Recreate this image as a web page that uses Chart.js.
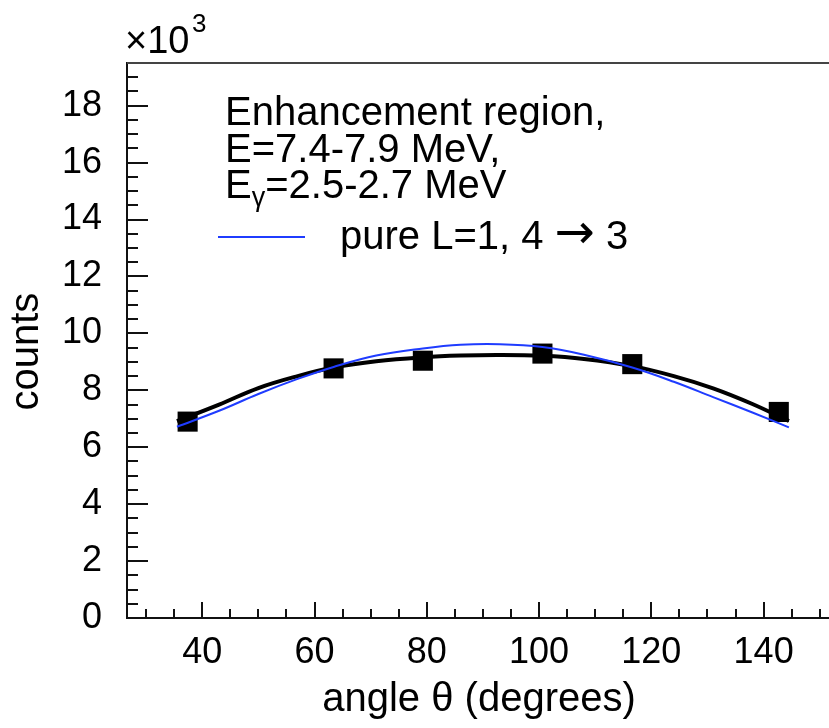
<!DOCTYPE html>
<html>
<head>
<meta charset="utf-8">
<script src="https://cdn.jsdelivr.net/npm/chart.js@4.4.1/dist/chart.umd.min.js"></script>
<style>
html, body { margin: 0; padding: 0; background: #fff; overflow: hidden; }
#wrap { width: 831px; height: 728px; }
</style>
</head>
<body>
<div id="wrap"><canvas id="c" width="831" height="728"></canvas></div>
<script>
// measured points (angle in degrees, counts in units of 10^3)
const angles = [37.4, 63.4, 79.3, 100.6, 116.6, 142.7];
const counts = [6.90, 8.77, 9.04, 9.29, 8.92, 7.24];

// black fit curve
const fitAngles = [35.5, 43, 50, 57, 63.4, 71, 79.3, 86, 93, 100.6, 108, 116.6, 124, 131, 138, 144.5];
const fitCounts = [6.92, 7.50, 8.08, 8.50, 8.80, 9.02, 9.16, 9.22, 9.24, 9.21, 9.10, 8.85, 8.50, 8.07, 7.52, 6.92];

// blue curve, pure L=1, 4 -> 3
const pureAngles = [35.5, 43, 50, 57, 63.4, 71, 79.3, 86, 93, 100.6, 108, 116.6, 124, 131, 138, 144.5];
const pureCounts = [6.72, 7.28, 7.87, 8.40, 8.82, 9.22, 9.47, 9.60, 9.62, 9.52, 9.25, 8.80, 8.30, 7.76, 7.22, 6.70];

// axes
const xTicks = [40, 60, 80, 100, 120, 140];
const yTicks = [0, 2, 4, 6, 8, 10, 12, 14, 16, 18];
const xRange = [26.6, 152];
const yRange = [0, 19.5];

const legendLines = ['Enhancement region,', 'E=7.4-7.9 MeV,'];
const legendGamma = ['E', '\u03b3', '=2.5-2.7 MeV'];
const legendCurve = ['pure L=1, 4 ', '\u2192', ' 3'];

const FONT = '"Liberation Sans", Arial, Helvetica, sans-serif';
const BLUE = '#1f3cff';

function pts(xs, ys) {
    return xs.map((v, i) => ({ x: v, y: ys[i] }));
}

// tick marks inside the frame, top border, the x10^3 and the legend
const decor = {
    id: 'decor',
    afterDatasetsDraw(chart) {
        const { ctx, chartArea: a, scales: { x, y } } = chart;
        ctx.save();
        ctx.strokeStyle = '#111';
        ctx.lineWidth = 2;
        ctx.beginPath();
        for (let v = 0; v <= yRange[1] + 1e-6; v += 0.5) {
            const py = Math.round(y.getPixelForValue(v));
            const len = (Math.abs(v % 2) < 1e-6) ? 21 : 11;
            ctx.moveTo(a.left, py);
            ctx.lineTo(a.left + len, py);
        }
        for (let v = 30; v <= xRange[1]; v += 5) {
            const px = Math.round(x.getPixelForValue(v));
            const len = (v % 20 === 0) ? 16 : 9;
            ctx.moveTo(px, a.bottom);
            ctx.lineTo(px, a.bottom - len);
        }
        ctx.stroke();

        // top frame line
        ctx.strokeStyle = '#444';
        ctx.beginPath();
        ctx.moveTo(a.left, a.top);
        ctx.lineTo(a.right, a.top);
        ctx.stroke();

        // x10^3
        ctx.fillStyle = '#000';
        ctx.textBaseline = 'alphabetic';
        ctx.textAlign = 'left';
        ctx.font = '38px ' + FONT;
        ctx.fillText('\u00d710', 125, 53);
        ctx.font = '26px ' + FONT;
        ctx.fillText('3', 192, 32);

        // legend text
        ctx.font = '40px ' + FONT;
        ctx.fillText(legendLines[0], 225, 125);
        ctx.fillText(legendLines[1], 225, 162);
        let gx = 225;
        ctx.fillText(legendGamma[0], gx, 198);
        gx += ctx.measureText(legendGamma[0]).width;
        ctx.font = '27px ' + FONT;
        ctx.fillText(legendGamma[1], gx, 206);
        gx += ctx.measureText(legendGamma[1]).width;
        ctx.font = '40px ' + FONT;
        ctx.fillText(legendGamma[2], gx, 198);

        let cx = 340;
        ctx.fillText(legendCurve[0], cx, 249);
        cx += ctx.measureText(legendCurve[0]).width;
        ctx.font = '48px "DejaVu Sans", sans-serif';
        ctx.fillText(legendCurve[1], cx, 248);
        cx += ctx.measureText(legendCurve[1]).width;
        ctx.font = '40px ' + FONT;
        ctx.fillText(legendCurve[2], cx, 249);

        ctx.strokeStyle = BLUE;
        ctx.lineWidth = 2;
        ctx.beginPath();
        ctx.moveTo(218, 237);
        ctx.lineTo(305, 237);
        ctx.stroke();
        ctx.restore();
    }
};

new Chart(document.getElementById('c'), {
    type: 'scatter',
    data: {
        datasets: [
            {
                label: 'pure L=1',
                data: pts(pureAngles, pureCounts),
                showLine: true,
                borderColor: BLUE,
                borderWidth: 2,
                pointRadius: 0,
                tension: 0.4,
                order: 0
            },
            {
                label: 'data',
                data: pts(angles, counts),
                showLine: false,
                pointStyle: 'rect',
                pointRadius: 14.2,
                backgroundColor: '#000',
                borderColor: '#000',
                borderWidth: 0,
                order: 1
            },
            {
                label: 'fit',
                data: pts(fitAngles, fitCounts),
                showLine: true,
                borderColor: '#000',
                borderWidth: 4,
                pointRadius: 0,
                tension: 0.4,
                order: 2
            }
        ]
    },
    options: {
        responsive: false,
        animation: false,
        devicePixelRatio: 1,
        layout: { autoPadding: false, padding: { top: 63, left: 0, right: 0, bottom: 0 } },
        plugins: {
            legend: { display: false },
            tooltip: { enabled: false }
        },
        scales: {
            x: {
                type: 'linear',
                min: xRange[0],
                max: xRange[1],
                afterBuildTicks: (s) => { s.ticks = xTicks.map(v => ({ value: v })); },
                afterFit: (s) => {
                    s.height = 110;
                    s.paddingLeft = 0;
                    s.paddingRight = 0;
                },
                grid: { display: false },
                border: { display: true, color: '#111', width: 2 },
                ticks: {
                    color: '#000',
                    font: { family: FONT, size: 36 },
                    padding: 5,
                    maxRotation: 0
                },
                title: {
                    display: true,
                    text: 'angle \u03b8 (degrees)',
                    color: '#000',
                    font: { family: FONT, size: 40 },
                    padding: { top: 0, bottom: 4 }
                }
            },
            y: {
                type: 'linear',
                min: yRange[0],
                max: yRange[1],
                afterBuildTicks: (s) => { s.ticks = yTicks.map(v => ({ value: v })); },
                afterFit: (s) => {
                    s.width = 127;
                    s.paddingTop = 0;
                    s.paddingBottom = 0;
                },
                grid: { display: false },
                border: { display: true, color: '#111', width: 2 },
                ticks: {
                    color: '#000',
                    font: { family: FONT, size: 36 },
                    padding: 17
                },
                title: {
                    display: true,
                    text: 'counts  ',
                    color: '#000',
                    font: { family: FONT, size: 40 },
                    padding: { top: 3, bottom: 0 }
                }
            }
        }
    },
    plugins: [decor]
});
</script>
</body>
</html>
